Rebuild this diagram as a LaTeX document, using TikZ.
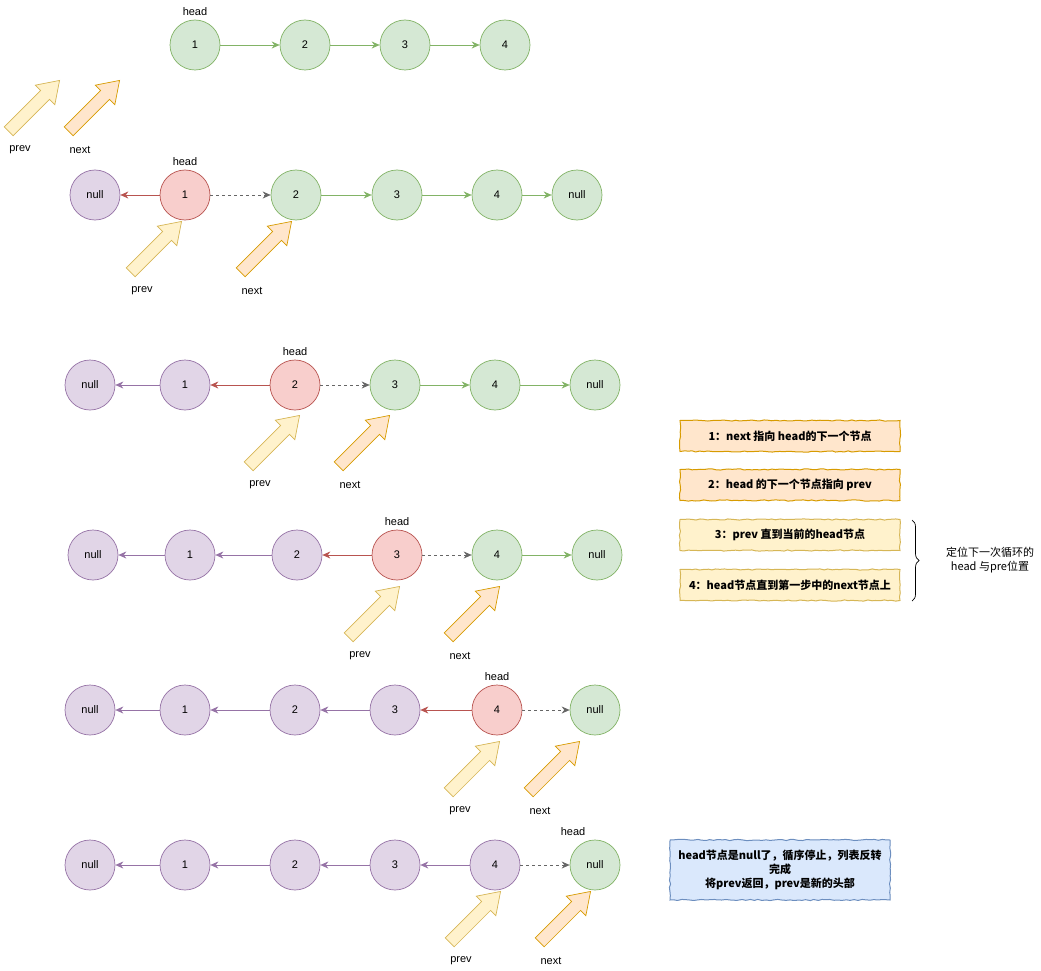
\documentclass[tikz,border=0pt]{standalone}
\usepackage{fontspec}
\setmainfont{Liberation Sans}
\newfontfamily\cjk{Noto Sans CJK SC}
\usetikzlibrary{
    arrows.meta,
    shapes.arrows,
    positioning,
    calc,
    decorations.pathmorphing,
    decorations.pathreplacing,
}
\definecolor{gfill}{HTML}{D5E8D4}
\definecolor{gline}{HTML}{82B366}
\definecolor{rfill}{HTML}{F8CECC}
\definecolor{rline}{HTML}{B85450}
\definecolor{pfill}{HTML}{E1D5E7}
\definecolor{pline}{HTML}{9673A6}
\definecolor{yfill}{HTML}{FFF2CC}
\definecolor{yline}{HTML}{D6B656}
\definecolor{ofill}{HTML}{FFE6CC}
\definecolor{oline}{HTML}{D79B00}
\definecolor{bfill}{HTML}{DAE8FC}
\definecolor{bline}{HTML}{6C8EBF}
\definecolor{dline}{HTML}{666666}

\tikzset{
    lnode/.style={circle, draw, minimum size=50pt, inner sep=0pt, line width=0.7pt,
        font=\fontsize{11}{13}\selectfont},
    gnode/.style={lnode, fill=gfill, draw=gline},
    rnode/.style={lnode, fill=rfill, draw=rline},
    pnode/.style={lnode, fill=pfill, draw=pline},
    tip/.style={-{Stealth[length=8pt,width=7pt]}, line width=0.7pt},
    glink/.style={tip, draw=gline},
    rlink/.style={tip, draw=rline},
    plink/.style={tip, draw=pline},
    dlink/.style={tip, draw=dline, dashed},
    ptr/.style={single arrow, rotate=45, anchor=tip, minimum height=72pt,
        single arrow head extend=7.5pt, single arrow tip angle=68,
        inner xsep=0pt, inner ysep=6pt, line width=0.7pt},
    prevptr/.style={ptr, fill=yfill, draw=yline},
    nextptr/.style={ptr, fill=ofill, draw=oline},
    txt/.style={font=\fontsize{11}{13}\selectfont, inner sep=1pt},
    note/.style={draw, line width=1pt, inner sep=0pt, minimum width=220pt,
        decorate, decoration={random steps, segment length=4pt, amplitude=0.6pt},
        font=\cjk\bfseries\fontsize{11}{14}\selectfont, align=center},
}

\begin{document}
\begin{tikzpicture}[x=1pt, y=-1pt]
    \useasboundingbox (0,0) rectangle (1041,971);

    % row 1
    \node[gnode] (a1) at (195,45) {1};
    \node[gnode] (a2) at (305,45) {2};
    \node[gnode] (a3) at (405,45) {3};
    \node[gnode] (a4) at (505,45) {4};
    \node[txt, above=3pt of a1] (ah) {head};
    \draw[glink] (a1) -- (a2);
    \draw[glink] (a2) -- (a3);
    \draw[glink] (a3) -- (a4);
    \node[prevptr] (ap) at (60,80) {};
    \node[nextptr] (an) at (120,80) {};
    \node[txt] (apl) at ($(ap.tip)+(-40,70)$) {prev};
    \node[txt] (anl) at ($(an.tip)+(-40,70)$) {next};

    % row 2
    \node[pnode] (b0) at (95,195) {null};
    \node[rnode] (b1) at (185,195) {1};
    \node[gnode] (b2) at (296,195) {2};
    \node[gnode] (b3) at (397,195) {3};
    \node[gnode] (b4) at (497,195) {4};
    \node[gnode] (b5) at (577,195) {null};
    \node[txt, above=3pt of b1] (bh) {head};
    \draw[rlink] (b1) -- (b0);
    \draw[dlink] (b1) -- (b2);
    \draw[glink] (b2) -- (b3);
    \draw[glink] (b3) -- (b4);
    \draw[glink] (b4) -- (b5);
    \node[prevptr] (bp) at (182,221) {};
    \node[nextptr] (bn) at (292,221) {};
    \node[txt] (bpl) at ($(bp.tip)+(-40,70)$) {prev};
    \node[txt] (bnl) at ($(bn.tip)+(-40,70)$) {next};

    % row 3
    \node[pnode] (c0) at (90,385) {null};
    \node[pnode] (c1) at (185,385) {1};
    \node[rnode] (c2) at (295,385) {2};
    \node[gnode] (c3) at (395,385) {3};
    \node[gnode] (c4) at (495,385) {4};
    \node[gnode] (c5) at (595,385) {null};
    \node[txt, above=3pt of c2] (ch) {head};
    \draw[plink] (c1) -- (c0);
    \draw[rlink] (c2) -- (c1);
    \draw[dlink] (c2) -- (c3);
    \draw[glink] (c3) -- (c4);
    \draw[glink] (c4) -- (c5);
    \node[prevptr] (cp) at (300,415) {};
    \node[nextptr] (cn) at (390,415) {};
    \node[txt] (cpl) at ($(cp.tip)+(-40,70)$) {prev};
    \node[txt] (cnl) at ($(cn.tip)+(-40,70)$) {next};

    % row 4
    \node[pnode] (d0) at (93,555) {null};
    \node[pnode] (d1) at (190,555) {1};
    \node[pnode] (d2) at (297,555) {2};
    \node[rnode] (d3) at (397,555) {3};
    \node[gnode] (d4) at (497,555) {4};
    \node[gnode] (d5) at (597,555) {null};
    \node[txt, above=3pt of d3] (dh) {head};
    \draw[plink] (d1) -- (d0);
    \draw[plink] (d2) -- (d1);
    \draw[rlink] (d3) -- (d2);
    \draw[dlink] (d3) -- (d4);
    \draw[glink] (d4) -- (d5);
    \node[prevptr] (dp) at (400,586) {};
    \node[nextptr] (dn) at (500,586) {};
    \node[txt] (dpl) at ($(dp.tip)+(-40,70)$) {prev};
    \node[txt] (dnl) at ($(dn.tip)+(-40,70)$) {next};

    % row 5
    \node[pnode] (e0) at (90,710) {null};
    \node[pnode] (e1) at (185,710) {1};
    \node[pnode] (e2) at (295,710) {2};
    \node[pnode] (e3) at (395,710) {3};
    \node[rnode] (e4) at (497,710) {4};
    \node[gnode] (e5) at (595,710) {null};
    \node[txt, above=3pt of e4] (eh) {head};
    \draw[plink] (e1) -- (e0);
    \draw[plink] (e2) -- (e1);
    \draw[plink] (e3) -- (e2);
    \draw[rlink] (e4) -- (e3);
    \draw[dlink] (e4) -- (e5);
    \node[prevptr] (ep) at (500,741) {};
    \node[nextptr] (en) at (580,741) {};
    \node[txt] (epl) at ($(ep.tip)+(-40,70)$) {prev};
    \node[txt] (enl) at ($(en.tip)+(-40,70)$) {next};

    % row 6
    \node[pnode] (f0) at (90,865) {null};
    \node[pnode] (f1) at (185,865) {1};
    \node[pnode] (f2) at (295,865) {2};
    \node[pnode] (f3) at (395,865) {3};
    \node[pnode] (f4) at (495,865) {4};
    \node[gnode] (f5) at (595,865) {null};
    \node[txt, above=3pt of f5, xshift=-22pt] (fh) {head};
    \draw[plink] (f1) -- (f0);
    \draw[plink] (f2) -- (f1);
    \draw[plink] (f3) -- (f2);
    \draw[plink] (f4) -- (f3);
    \draw[dlink] (f4) -- (f5);
    \node[prevptr] (fp) at (501,891) {};
    \node[nextptr] (fn) at (591,891) {};
    \node[txt] (fpl) at ($(fp.tip)+(-40,70)$) {prev};
    \node[txt] (fnl) at ($(fn.tip)+(-40,70)$) {next};

    % steps
    \node[note, fill=ofill, draw=oline, minimum height=31pt] (s1) at (790,436) {1：next 指向 head的下一个节点};
    \node[note, fill=ofill, draw=oline, minimum height=31pt] (s2) at (790,485) {2：head 的下一个节点指向 prev};
    \node[note, fill=yfill, draw=yline, minimum height=31pt] (s3) at (790,535) {3：prev 直到当前的head节点};
    \node[note, fill=yfill, draw=yline, minimum height=31pt] (s4) at (790,585) {4：head节点直到第一步中的next节点上};
    \coordinate (bt) at (912,520);
    \coordinate (bb) at (912,601);
    \draw[decorate, decoration={brace, amplitude=7pt}, line width=0.7pt] (bt) -- (bb);
    \node[txt, align=center, font=\cjk\fontsize{11}{14}\selectfont] (bl) at (990,560) {定位下一次循环的\\head 与pre位置};

    \node[note, fill=bfill, draw=bline, minimum width=220pt, minimum height=60pt] (fin) at (780,870)
        {head节点是null了，循序停止，列表反转\\完成\\将prev返回，prev是新的头部};
\end{tikzpicture}
\end{document}
